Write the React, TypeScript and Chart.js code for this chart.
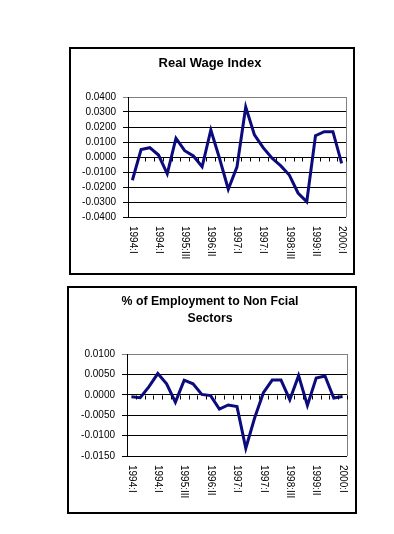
import React, { useEffect, useRef } from "react";
import { Chart, registerables } from "chart.js";

Chart.register(...registerables);

const QUARTERS = [
  "1994:I", "1994:II", "1994:III", "1994:IV",
  "1995:I", "1995:II", "1995:III", "1995:IV",
  "1996:I", "1996:II", "1996:III", "1996:IV",
  "1997:I", "1997:II", "1997:III", "1997:IV",
  "1998:I", "1998:II", "1998:III", "1998:IV",
  "1999:I", "1999:II", "1999:III", "1999:IV",
  "2000:I",
];

// Labels as printed under the axis (every third quarter)
const TICK_LABELS = ["1994:I", "1994:I", "1995:III", "1996:II", "1997:I", "1997:I", "1998:III", "1999:II", "2000:I"];
const TICK_EVERY = 3;

const WAGE_TITLE = ["Real Wage Index"];
const WAGE = [
  -0.0155, 0.0050, 0.0062, 0.0013, -0.0112, 0.0125, 0.0042, 0.0007, -0.0065,
  0.0180, -0.0010, -0.0215, -0.0065, 0.0333, 0.0147, 0.0062, -0.0007, -0.0058,
  -0.0120, -0.0240, -0.0298, 0.0142, 0.0169, 0.0169, -0.0042,
];
const WAGE_AXIS = { min: -0.04, max: 0.04, step: 0.01 };

const EMP_TITLE = ["% of Employment to Non Fcial", "Sectors"];
const EMP = [
  -0.0005, -0.0007, 0.0020, 0.0052, 0.0027, -0.0018, 0.0036, 0.0027, 0.0001,
  -0.0002, -0.0035, -0.0025, -0.0029, -0.0131, -0.0057, 0.0005, 0.0036, 0.0036,
  -0.0012, 0.0047, -0.0026, 0.0041, 0.0046, -0.0008, -0.0004,
];
const EMP_AXIS = { min: -0.015, max: 0.01, step: 0.005 };

const FONT = '"Liberation Sans", Arial, sans-serif';

function makeChart(
  canvas: HTMLCanvasElement,
  title: string[],
  titleSize: number,
  data: number[],
  axis: { min: number; max: number; step: number },
  pad: { top: number; right: number; bottom: number; yWidth: number }
) {
  const framePlugin = {
    id: "frame",
    afterDraw(chart: any) {
      const { ctx, chartArea, width, height } = chart;
      const { left, top, right, bottom } = chartArea;
      const xs = chart.scales.x;
      const ys = chart.scales.y;
      ctx.save();
      // right plot border (gray)
      ctx.strokeStyle = "#808080";
      ctx.lineWidth = 1;
      ctx.beginPath();
      ctx.moveTo(Math.round(right) + 0.5, top);
      ctx.lineTo(Math.round(right) + 0.5, bottom);
      ctx.stroke();
      // category tick marks on the zero line
      const y0 = Math.round(ys.getPixelForValue(0)) + 0.5;
      const half = (xs.getPixelForValue(1) - xs.getPixelForValue(0)) / 2;
      ctx.strokeStyle = "#000";
      ctx.beginPath();
      for (let i = 0; i <= QUARTERS.length; i++) {
        const bx = Math.round(xs.getPixelForValue(i) - half) + 0.5;
        ctx.moveTo(bx, y0);
        ctx.lineTo(bx, y0 + 4);
      }
      ctx.stroke();
      // rotated category labels
      ctx.fillStyle = "#000";
      ctx.font = `10px ${FONT}`;
      ctx.textAlign = "left";
      ctx.textBaseline = "middle";
      TICK_LABELS.forEach((lab, k) => {
        const px = xs.getPixelForValue(k * TICK_EVERY);
        ctx.save();
        ctx.translate(px, bottom + 9);
        ctx.rotate(Math.PI / 2);
        ctx.fillText(lab, 0, 0);
        ctx.restore();
      });
      // title
      ctx.font = `bold ${titleSize}px ${FONT}`;
      ctx.textAlign = "center";
      title.forEach((t, i) => {
        ctx.fillText(t, width / 2 - 2, 16 + i * 16.5);
      });
      // outer box
      ctx.strokeStyle = "#000";
      ctx.lineWidth = 2;
      ctx.strokeRect(1, 1, width - 2, height - 2);
      ctx.restore();
    },
  };

  return new Chart(canvas, {
    type: "line",
    data: {
      labels: QUARTERS,
      datasets: [
        {
          data,
          borderColor: "#0b0b7e",
          borderWidth: 3,
          pointRadius: 0,
          tension: 0,
          fill: false,
        },
      ],
    },
    options: {
      responsive: false,
      animation: false,
      layout: { padding: { left: 0, top: pad.top, right: pad.right, bottom: pad.bottom } },
      plugins: { legend: { display: false }, title: { display: false }, tooltip: { enabled: false } },
      scales: {
        x: { display: false, offset: true },
        y: {
          min: axis.min,
          max: axis.max,
          afterFit: (s: any) => {
            s.width = pad.yWidth;
          },
          border: { display: true, color: "#000", width: 1 },
          grid: {
            color: (c: any) => (c.tick && Math.abs(c.tick.value - axis.max) < 1e-9 ? "#808080" : "#000"),
            lineWidth: 1,
            drawTicks: true,
            tickLength: 5,
          },
          ticks: {
            stepSize: axis.step,
            color: "#000",
            padding: 7,
            font: { size: 10, family: FONT },
            callback: (v: any) => Number(v).toFixed(4),
          },
        },
      },
    },
    plugins: [framePlugin],
  });
}

export default function App() {
  const topRef = useRef<HTMLCanvasElement>(null);
  const botRef = useRef<HTMLCanvasElement>(null);

  useEffect(() => {
    const a = makeChart(topRef.current!, WAGE_TITLE, 13, WAGE, WAGE_AXIS, {
      top: 50,
      right: 9,
      bottom: 58,
      yWidth: 59,
    });
    const b = makeChart(botRef.current!, EMP_TITLE, 12.3, EMP, EMP_AXIS, {
      top: 68,
      right: 10,
      bottom: 58,
      yWidth: 60,
    });
    return () => {
      a.destroy();
      b.destroy();
    };
  }, []);

  return (
    <div style={{ position: "fixed", left: 0, top: 0, width: 394, height: 534, background: "#fff" }}>
      <canvas
        ref={topRef}
        width={286}
        height={228}
        style={{ position: "absolute", left: 69, top: 47, width: 286, height: 228 }}
      />
      <canvas
        ref={botRef}
        width={290}
        height={228}
        style={{ position: "absolute", left: 67, top: 286, width: 290, height: 228 }}
      />
    </div>
  );
}
